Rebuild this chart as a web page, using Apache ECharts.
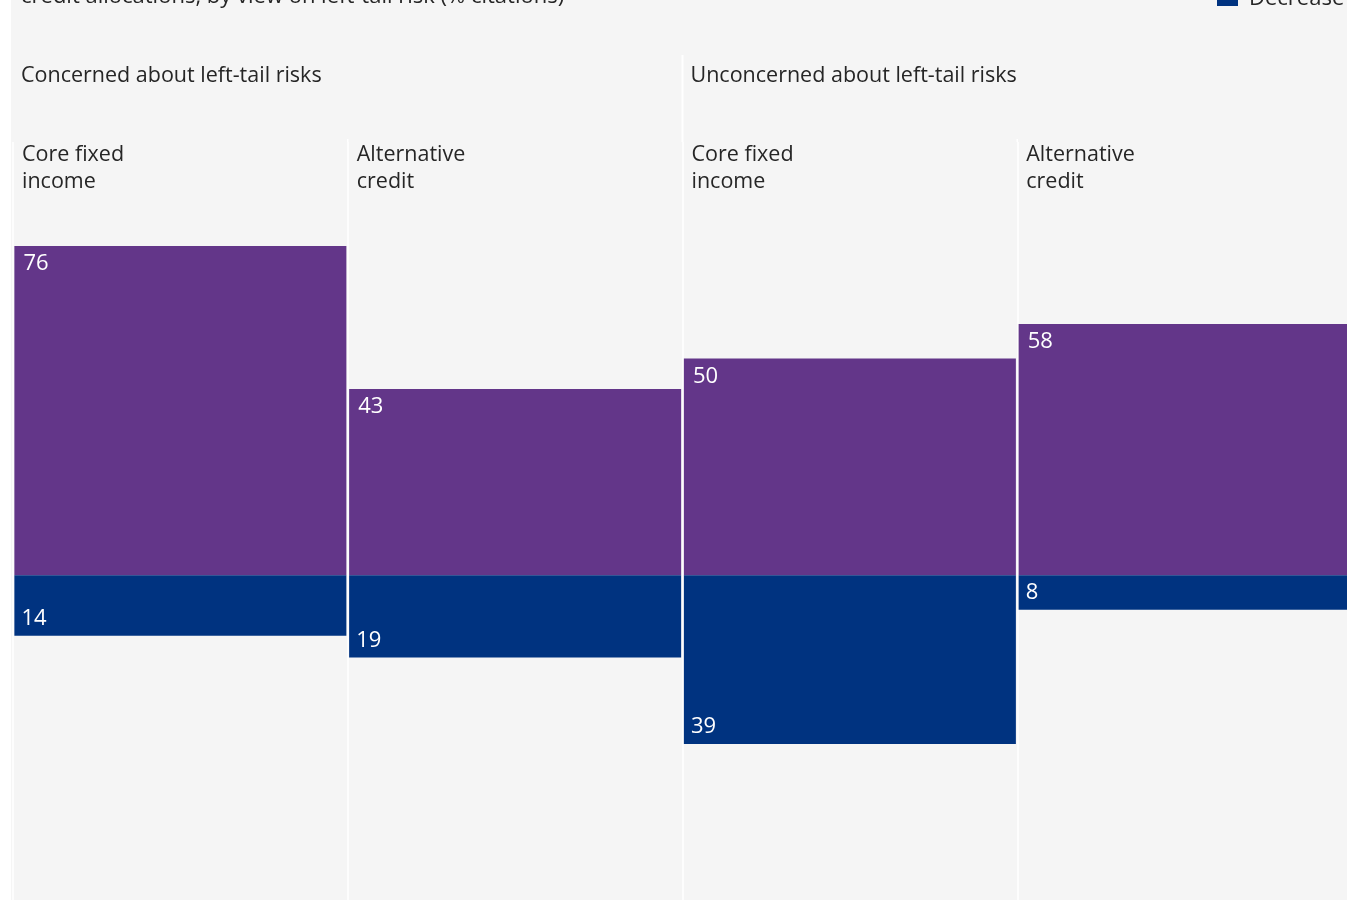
<!DOCTYPE html>
<html>
<head>
<meta charset="utf-8">
<title>Credit allocations by view on left-tail risk</title>
<script src="https://cdn.jsdelivr.net/npm/echarts@6/dist/echarts.min.js"></script>
<style>
  html, body { margin: 0; padding: 0; background: #ffffff; overflow: hidden; width: 1347px; height: 900px; }
  #chart { position: absolute; left: 11px; top: 0; width: 1345px; height: 900px; background: #f5f5f5; }
</style>
</head>
<body>
<div id="chart"></div>
<script>
// Survey groups and the asset classes within each group
const groups = ['Concerned about left-tail risks', 'Unconcerned about left-tail risks'];
const categories = ['Core fixed\nincome', 'Alternative\ncredit', 'Core fixed\nincome ', 'Alternative\ncredit '];
// % of citations
const increaseValues = [76, 43, 50, 58];
const decreaseValues = [14, 19, 39, 8];
const titleText = 'credit allocations, by view on left-tail risk (% citations)';

const FONT = '"Open Sans", "Noto Sans", sans-serif';
const PURPLE = '#633689';
const NAVY = '#003380';
const INK = '#262626';

const chart = echarts.init(document.getElementById('chart'), null, { renderer: 'canvas' });

const option = {
  backgroundColor: '#f5f5f5',
  animation: false,
  textStyle: { fontFamily: FONT },
  legend: {
    orient: 'vertical',
    left: 1206,
    top: -44,
    padding: 0,
    itemWidth: 21,
    itemHeight: 14,
    itemGap: 10,
    icon: 'rect',
    textStyle: { fontFamily: FONT, fontSize: 22, color: INK, padding: [0, 0, 0, 6] },
    data: ['Increase', 'Decrease']
  },
  grid: { left: 2, top: 142, width: 1339, height: 758, containLabel: false },
  xAxis: {
    type: 'category',
    data: categories,
    boundaryGap: true,
    axisLine: { show: false },
    axisTick: { show: false },
    axisLabel: { show: false },
    splitLine: { show: true, lineStyle: { color: '#ffffff', width: 1.5 } }
  },
  yAxis: {
    type: 'value',
    min: -75,
    max: 100,
    show: false,
    splitLine: { show: false }
  },
  series: [
    {
      name: 'Increase',
      type: 'bar',
      stack: 'total',
      barWidth: 332,
      data: increaseValues,
      itemStyle: { color: PURPLE },
      label: {
        show: true,
        position: 'insideTopLeft',
        distance: 8,
        offset: [1, -1],
        color: '#ffffff',
        fontSize: 22,
        fontFamily: FONT
      }
    },
    {
      name: 'Decrease',
      type: 'bar',
      stack: 'total',
      barWidth: 332,
      data: decreaseValues.map(v => -v),
      itemStyle: { color: NAVY },
      label: {
        show: true,
        position: 'insideBottomLeft',
        distance: 6,
        offset: [1, 0],
        color: '#ffffff',
        fontSize: 22,
        fontFamily: FONT,
        formatter: p => String(Math.abs(p.value))
      }
    }
  ]
};

chart.setOption(option);

// Header texts placed relative to the category bands
const xs = categories.map((_, i) => chart.convertToPixel({ xAxisIndex: 0 }, i));
const band = xs.length > 1 ? xs[1] - xs[0] : 0;
const bandLeft = i => xs[i] - band / 2;

const graphics = [
  {
    type: 'text', left: 10, top: -14, silent: true,
    style: { text: titleText, fill: INK, font: '22px ' + FONT }
  }
];
groups.forEach((g, gi) => {
  graphics.push({
    type: 'text', x: bandLeft(gi * 2) + 8, y: 76, silent: true,
    style: { text: g, fill: INK, font: '21.5px ' + FONT, verticalAlign: 'middle', align: 'left' }
  });
});
categories.forEach((c, i) => {
  graphics.push({
    type: 'text', x: bandLeft(i) + 9, y: 141, silent: true,
    style: { text: c.trim(), fill: INK, font: '21.5px ' + FONT, lineHeight: 27, verticalAlign: 'top', align: 'left' }
  });
});
// Divider between the two groups runs up through the header area
const mid = bandLeft(2);
graphics.push({
  type: 'line', silent: true,
  shape: { x1: mid, y1: 55, x2: mid, y2: 142 },
  style: { stroke: '#ffffff', lineWidth: 2 }
});
[1, 3].forEach(i => {
  graphics.push({
    type: 'line', silent: true,
    shape: { x1: bandLeft(i), y1: 139, x2: bandLeft(i), y2: 142 },
    style: { stroke: '#ffffff', lineWidth: 1.5 }
  });
});

chart.setOption({ graphic: graphics });
</script>
</body>
</html>
